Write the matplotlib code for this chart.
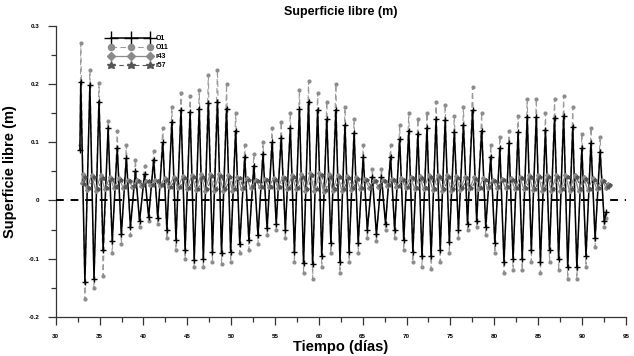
import numpy as np
import matplotlib
matplotlib.use("Agg")
import matplotlib.pyplot as plt
from matplotlib.ticker import MultipleLocator

plt.rcParams['font.family'] = ['Liberation Sans', 'DejaVu Sans']
plt.rcParams['font.weight'] = 'bold'

# --- datos (extremos de cada ciclo diurno) ---
t_inicio = 32.85      # dia del primer maximo
periodo = 1.039       # separacion entre maximos (dias)
valor_inicial = [0.087, 0.095, 0.030, 0.028]   # O1, O11, r43, r57
valor_final = [-0.020, -0.030, 0.028, 0.026]

o1_max = [0.204, 0.198, 0.170, 0.125, 0.090, 0.073, 0.050, 0.045, 0.070, 0.100,
          0.135, 0.155, 0.152, 0.158, 0.168, 0.170, 0.158, 0.120, 0.075, 0.060,
          0.080, 0.100, 0.108, 0.125, 0.157, 0.170, 0.156, 0.140, 0.156, 0.130,
          0.116, 0.075, 0.041, 0.040, 0.075, 0.105, 0.120, 0.115, 0.125, 0.140,
          0.138, 0.118, 0.130, 0.155, 0.120, 0.075, 0.090, 0.099, 0.118, 0.144,
          0.144, 0.121, 0.142, 0.145, 0.127, 0.090, 0.099, 0.084]
o1_min = [-0.140, -0.135, -0.085, -0.070, -0.058, -0.045, -0.035, -0.028, -0.030, -0.050,
          -0.068, -0.085, -0.102, -0.100, -0.088, -0.090, -0.088, -0.075, -0.068, -0.060,
          -0.048, -0.040, -0.050, -0.088, -0.108, -0.110, -0.096, -0.073, -0.105, -0.088,
          -0.073, -0.050, -0.058, -0.040, -0.050, -0.068, -0.088, -0.096, -0.096, -0.085,
          -0.072, -0.050, -0.040, -0.035, -0.045, -0.073, -0.105, -0.100, -0.100, -0.085,
          -0.105, -0.085, -0.100, -0.115, -0.115, -0.095, -0.065, -0.035]

o11_max = [0.270, 0.224, 0.202, 0.136, 0.120, 0.095, 0.070, 0.060, 0.085, 0.125,
           0.160, 0.185, 0.180, 0.190, 0.215, 0.225, 0.200, 0.150, 0.095, 0.080,
           0.100, 0.125, 0.135, 0.150, 0.190, 0.205, 0.185, 0.170, 0.200, 0.160,
           0.140, 0.095, 0.055, 0.055, 0.095, 0.130, 0.150, 0.140, 0.150, 0.170,
           0.165, 0.145, 0.160, 0.195, 0.150, 0.095, 0.110, 0.120, 0.145, 0.175,
           0.175, 0.150, 0.175, 0.180, 0.160, 0.115, 0.125, 0.110]
o11_min = [-0.170, -0.150, -0.130, -0.090, -0.075, -0.060, -0.045, -0.035, -0.040, -0.065,
           -0.085, -0.100, -0.115, -0.115, -0.105, -0.110, -0.105, -0.090, -0.085, -0.075,
           -0.060, -0.050, -0.065, -0.105, -0.125, -0.135, -0.115, -0.090, -0.125, -0.105,
           -0.090, -0.065, -0.070, -0.050, -0.065, -0.085, -0.105, -0.115, -0.118, -0.105,
           -0.090, -0.065, -0.050, -0.045, -0.060, -0.090, -0.125, -0.120, -0.120, -0.105,
           -0.125, -0.105, -0.120, -0.135, -0.135, -0.115, -0.080, -0.045]

r43_max = [0.045, 0.044, 0.043, 0.040, 0.038, 0.036, 0.035, 0.034, 0.036, 0.038,
           0.040, 0.042, 0.044, 0.045, 0.046, 0.046, 0.044, 0.041, 0.038, 0.036,
           0.037, 0.039, 0.041, 0.043, 0.045, 0.047, 0.047, 0.045, 0.044, 0.042,
           0.040, 0.037, 0.035, 0.035, 0.037, 0.039, 0.041, 0.042, 0.043, 0.044,
           0.044, 0.042, 0.041, 0.040, 0.038, 0.036, 0.037, 0.039, 0.041, 0.043,
           0.044, 0.044, 0.043, 0.044, 0.043, 0.040, 0.038, 0.036]
r43_min = [0.018, 0.017, 0.019, 0.021, 0.022, 0.024, 0.025, 0.026, 0.025, 0.023,
           0.021, 0.019, 0.018, 0.017, 0.016, 0.016, 0.017, 0.019, 0.021, 0.023,
           0.023, 0.022, 0.020, 0.019, 0.017, 0.016, 0.015, 0.016, 0.017, 0.018,
           0.020, 0.022, 0.024, 0.025, 0.024, 0.022, 0.020, 0.019, 0.018, 0.017,
           0.017, 0.018, 0.019, 0.020, 0.021, 0.022, 0.021, 0.020, 0.019, 0.018,
           0.017, 0.017, 0.017, 0.016, 0.016, 0.018, 0.020, 0.022]

r57_max = [0.040, 0.040, 0.039, 0.037, 0.035, 0.034, 0.033, 0.033, 0.034, 0.035,
           0.037, 0.039, 0.040, 0.041, 0.042, 0.042, 0.040, 0.038, 0.036, 0.034,
           0.035, 0.036, 0.038, 0.040, 0.041, 0.043, 0.043, 0.041, 0.040, 0.039,
           0.037, 0.035, 0.033, 0.033, 0.035, 0.036, 0.038, 0.039, 0.040, 0.040,
           0.040, 0.039, 0.038, 0.037, 0.035, 0.034, 0.035, 0.036, 0.038, 0.040,
           0.040, 0.040, 0.040, 0.041, 0.040, 0.037, 0.035, 0.034]
r57_min = [0.021, 0.020, 0.021, 0.023, 0.024, 0.025, 0.026, 0.026, 0.026, 0.024,
           0.023, 0.021, 0.020, 0.019, 0.019, 0.019, 0.020, 0.021, 0.023, 0.024,
           0.024, 0.023, 0.022, 0.021, 0.020, 0.019, 0.018, 0.019, 0.020, 0.021,
           0.022, 0.024, 0.025, 0.026, 0.025, 0.024, 0.022, 0.021, 0.020, 0.020,
           0.020, 0.021, 0.021, 0.022, 0.023, 0.024, 0.023, 0.022, 0.021, 0.020,
           0.020, 0.019, 0.019, 0.019, 0.019, 0.020, 0.022, 0.023]

nombres = ['O1', 'O11', 'r43', 'r57']


def serie(maximos, minimos, v0, v1, desfase=0.0):
    # alterna maximos y minimos de cada ciclo sobre el eje de tiempo
    k = np.arange(len(maximos))
    t_max = t_inicio + desfase + k * periodo
    t_min = t_max + 0.45 * periodo
    t = np.empty(2 * len(k))
    y = np.empty(2 * len(k))
    t[0::2], t[1::2] = t_max, t_min
    y[0::2], y[1::2] = maximos, minimos
    t = np.concatenate([[t_max[0] - 0.1], t, [t_min[-1] + 0.25]])
    y = np.concatenate([[v0], y, [v1]])
    return t, y


fig = plt.figure(figsize=(6.34, 3.56), dpi=100)
ax = fig.add_axes([0.088, 0.11, 0.899, 0.817])

t, y = serie(o11_max, o11_min, valor_inicial[1], valor_final[1])
ax.plot(t, y, color='#9a9a9a', lw=0.8, ls=(0, (5, 3)), marker='o', ms=2.0,
        mfc='#8c8c8c', mec='#8c8c8c', label=nombres[1], zorder=2)
t, y = serie(o1_max, o1_min, valor_inicial[0], valor_final[0])
ax.plot(t, y, color='black', lw=1.1, marker='+', ms=4.5, mew=1.0,
        label=nombres[0], zorder=3)
t, y = serie(r43_max, r43_min, valor_inicial[2], valor_final[2], 0.2)
ax.plot(t, y, color='#8a8a8a', lw=0.9, marker='D', ms=2.0,
        mfc='#8a8a8a', mec='#8a8a8a', label=nombres[2], zorder=4)
t, y = serie(r57_max, r57_min, valor_inicial[3], valor_final[3], 0.45)
ax.plot(t, y, color='#555555', lw=0.8, ls=(0, (4, 3)), marker='*', ms=2.8,
        mfc='#555555', mec='#555555', label=nombres[3], zorder=4)

ax.axhline(0, color='black', lw=1.4, ls=(0, (4, 3.5)), zorder=5)

ax.set_xlim(30, 95)
ax.set_ylim(-0.2, 0.3)
ax.xaxis.set_major_locator(MultipleLocator(5))
ax.xaxis.set_minor_locator(MultipleLocator(2.5))
ax.yaxis.set_major_locator(MultipleLocator(0.1))
ax.yaxis.set_minor_locator(MultipleLocator(0.05))
ax.yaxis.set_major_formatter(plt.FuncFormatter(lambda v, p: '0' if abs(v) < 1e-9 else f'{v:g}'))

for s in ['top', 'right']:
    ax.spines[s].set_visible(False)
for s in ['left', 'bottom']:
    ax.spines[s].set_color('#333333')
    ax.spines[s].set_linewidth(0.9)
ax.tick_params(which='major', direction='out', length=6, width=0.9, color='#333333',
               labelsize=4.5, pad=6)
ax.tick_params(which='minor', direction='out', length=3.5, width=0.9, color='#333333')

ax.set_title('Superficie libre (m)', fontsize=9, fontweight='bold', pad=8)
ax.set_xlabel('Tiempo (días)', fontsize=10.5, fontweight='bold', labelpad=1)
ax.set_ylabel('Superficie libre (m)', fontsize=10.5, fontweight='bold', labelpad=8)

h, l = ax.get_legend_handles_labels()
orden = [1, 0, 2, 3]
leg = ax.legend([h[i] for i in orden], [l[i] for i in orden], loc='upper left',
                bbox_to_anchor=(0.082, 0.99), frameon=False, fontsize=5, numpoints=3,
                markerscale=2.2, handlelength=6.3, handletextpad=0.4, labelspacing=0.3)

fig.savefig('out.png', dpi=100)
